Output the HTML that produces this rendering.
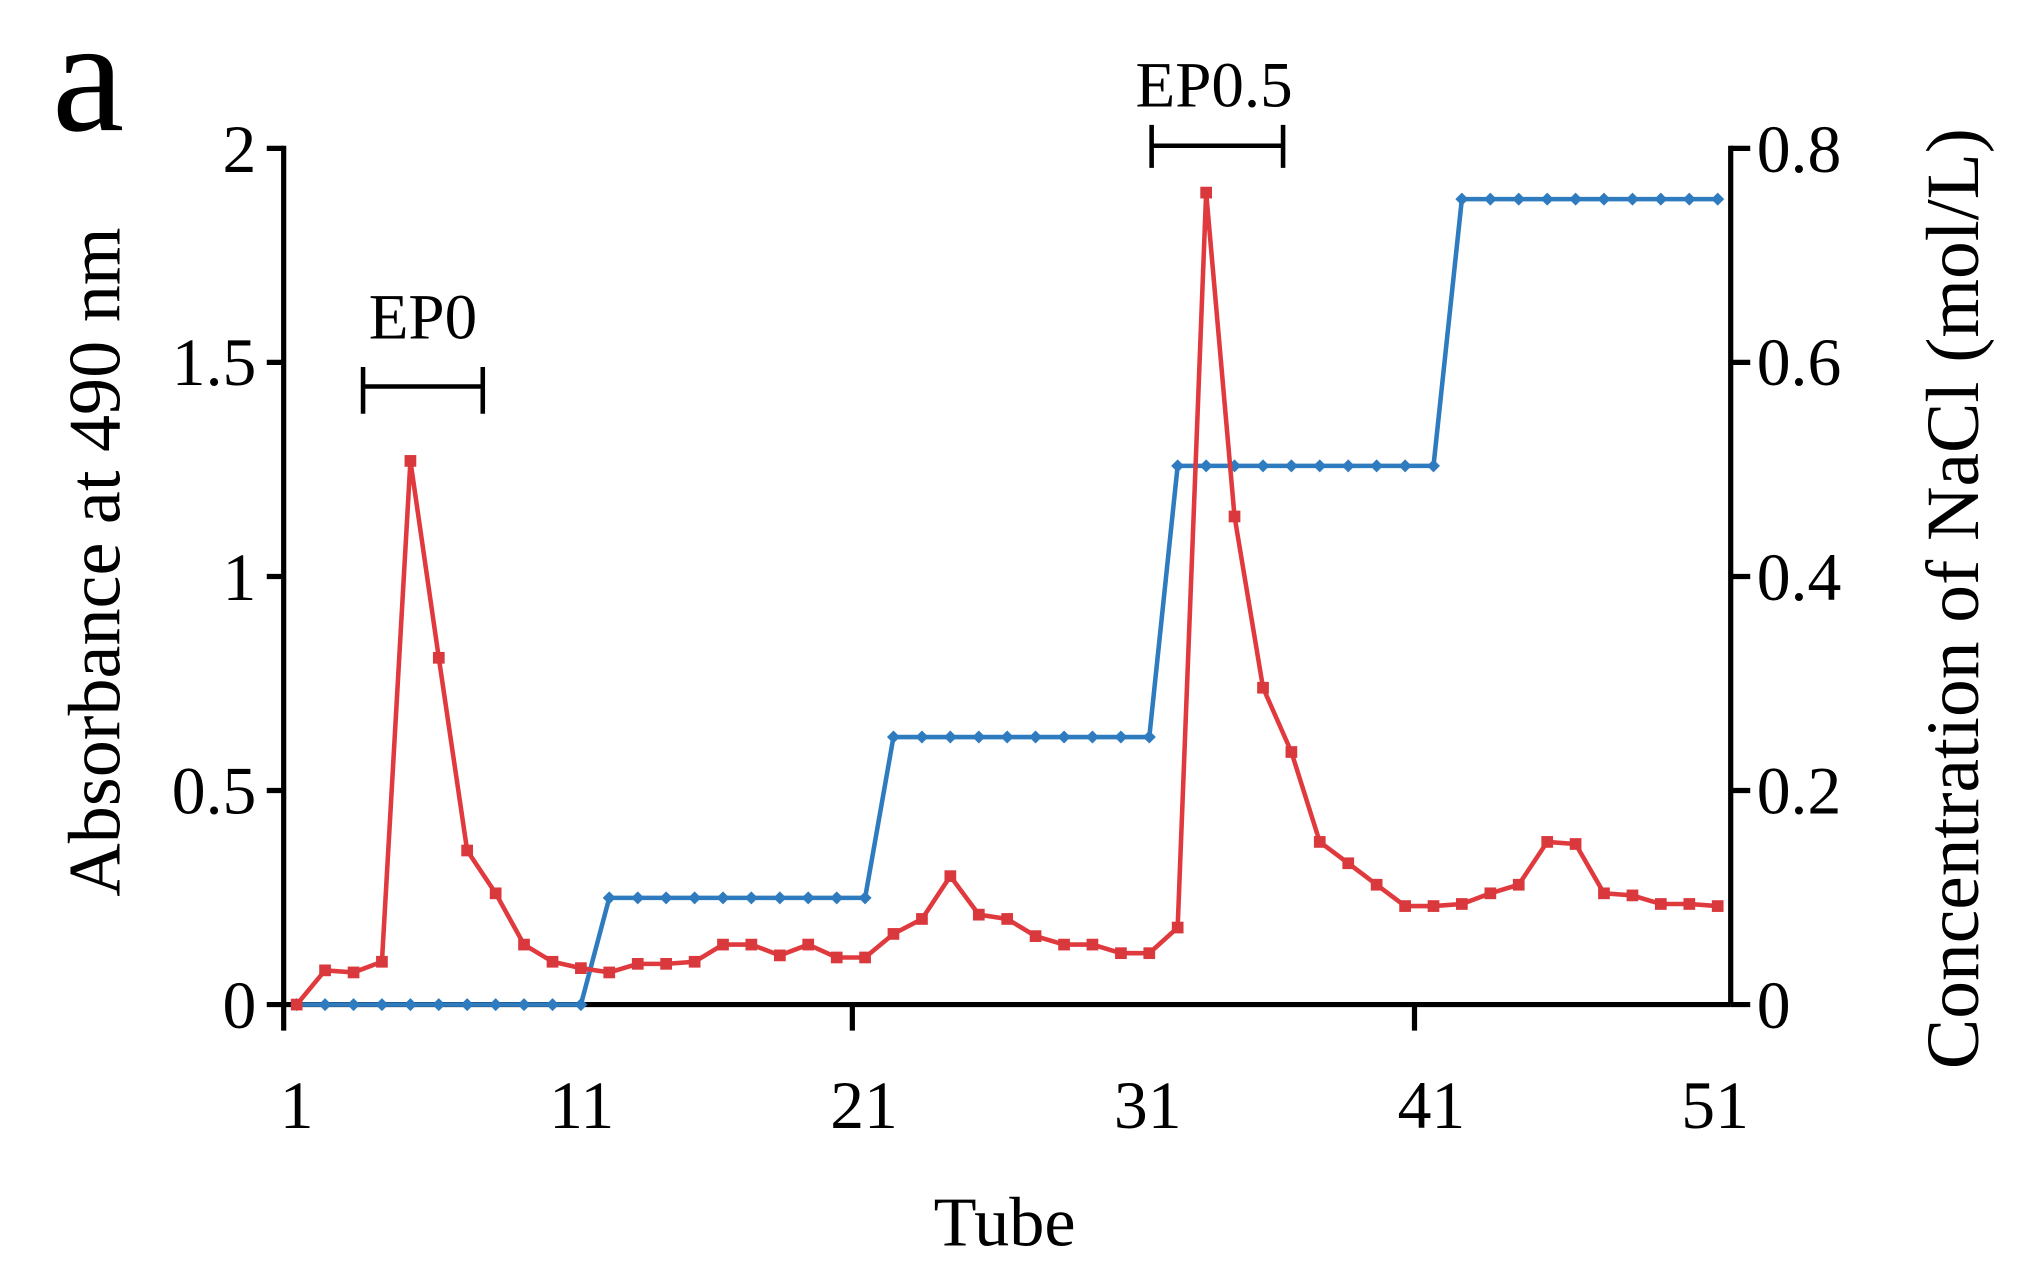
<!DOCTYPE html>
<html><head><meta charset="utf-8"><style>html,body{margin:0;padding:0;background:#fff;}svg{display:block}</style></head>
<body>
<svg width="2030" height="1285" viewBox="0 0 1560 987.5" preserveAspectRatio="none" xmlns="http://www.w3.org/2000/svg" font-family="Liberation Serif, serif">
<defs>
<marker id="sq" markerUnits="userSpaceOnUse" markerWidth="10" markerHeight="10" refX="5" refY="5" overflow="visible"><rect x="0.5" y="0.5" width="9" height="9" fill="#d9383c"/></marker>
<marker id="dm" markerUnits="userSpaceOnUse" markerWidth="10" markerHeight="10" refX="5" refY="5" overflow="visible"><path d="M0 5L5 0L10 5L5 10Z" fill="#2e7bbf"/></marker>
</defs>
<rect width="1560" height="988" fill="#fff"/>
<text x="40" y="100" font-size="125" fill="#000">a</text>
<g stroke="#000" stroke-width="4" fill="none">
<line x1="218" y1="112" x2="218" y2="792"/>
<line x1="205" y1="772" x2="1330" y2="772"/>
<line x1="1330" y1="112" x2="1330" y2="772"/>
<line x1="205" y1="114" x2="218" y2="114"/><line x1="205" y1="278.5" x2="218" y2="278.5"/><line x1="205" y1="443" x2="218" y2="443"/><line x1="205" y1="607.5" x2="218" y2="607.5"/>
<line x1="1330" y1="114" x2="1345" y2="114"/><line x1="1330" y1="278.5" x2="1345" y2="278.5"/><line x1="1330" y1="443" x2="1345" y2="443"/><line x1="1330" y1="607.5" x2="1345" y2="607.5"/><line x1="1330" y1="772" x2="1345" y2="772"/>
<line x1="655" y1="772" x2="655" y2="792"/><line x1="1087" y1="772" x2="1087" y2="792"/>
<path d="M279 297H371M279 282V318M371 282V318" stroke-width="3.5"/>
<path d="M885 112H986M885 96V129M986 96V129" stroke-width="3.5"/>
</g>
<polyline fill="none" stroke="#2e7bbf" stroke-width="3.5" marker-start="url(#dm)" marker-mid="url(#dm)" marker-end="url(#dm)" points="228,772 249.8,772 271.7,772 293.5,772 315.4,772 337.2,772 359,772 380.9,772 402.7,772 424.6,772 446.4,772 468.2,690 490.1,690 511.9,690 533.8,690 555.6,690 577.4,690 599.3,690 621.1,690 643,690 664.8,690 686.6,566.4 708.5,566.4 730.3,566.4 752.2,566.4 774,566.4 795.8,566.4 817.7,566.4 839.5,566.4 861.4,566.4 883.2,566.4 905,358 926.9,358 948.7,358 970.6,358 992.4,358 1014.2,358 1036.1,358 1057.9,358 1079.8,358 1101.6,358 1123.4,153 1145.3,153 1167.1,153 1189,153 1210.8,153 1232.6,153 1254.5,153 1276.3,153 1298.2,153 1320,153"/>
<polyline fill="none" stroke="#e03a3e" stroke-width="3.5" marker-start="url(#sq)" marker-mid="url(#sq)" marker-end="url(#sq)" points="228,772 249.8,745.7 271.7,747.3 293.5,739.1 315.4,354.2 337.2,505.5 359,653.6 380.9,686.5 402.7,725.9 424.6,739.1 446.4,744 468.2,747.3 490.1,740.7 511.9,740.7 533.8,739.1 555.6,725.9 577.4,725.9 599.3,734.2 621.1,725.9 643,735.8 664.8,735.8 686.6,717.7 708.5,706.2 730.3,673.3 752.2,702.9 774,706.2 795.8,719.4 817.7,725.9 839.5,725.9 861.4,732.5 883.2,732.5 905,712.8 926.9,148 948.7,396.9 970.6,528.5 992.4,577.9 1014.2,647 1036.1,663.4 1057.9,679.9 1079.8,696.3 1101.6,696.3 1123.4,694.7 1145.3,686.5 1167.1,679.9 1189,647 1210.8,648.6 1232.6,686.5 1254.5,688.1 1276.3,694.7 1298.2,694.7 1320,696.3"/>
<g font-size="52" fill="#000">
<text x="197" y="790" text-anchor="end">0</text>
<text x="197" y="625" text-anchor="end">0.5</text>
<text x="197" y="461" text-anchor="end">1</text>
<text x="197" y="296" text-anchor="end">1.5</text>
<text x="197" y="132" text-anchor="end">2</text>
<text x="1350" y="790">0</text>
<text x="1350" y="625">0.2</text>
<text x="1350" y="461">0.4</text>
<text x="1350" y="296">0.6</text>
<text x="1350" y="132">0.8</text>
<g text-anchor="middle">
<text x="228" y="867">1</text><text x="447" y="867">11</text><text x="664" y="867">21</text><text x="882" y="867">31</text><text x="1100" y="867">41</text><text x="1318" y="867">51</text>
<text x="772" y="957" font-size="54">Tube</text>
<text x="325" y="260" font-size="50">EP0</text>
<text x="933" y="82" font-size="50">EP0.5</text>
<text transform="translate(92,432) rotate(-90)" font-size="57">Absorbance at 490 nm</text>
<text transform="translate(1520,460) rotate(-90)" font-size="58">Concentration of  NaCl (mol/L)</text>
</g></g>
</svg>
</body></html>
